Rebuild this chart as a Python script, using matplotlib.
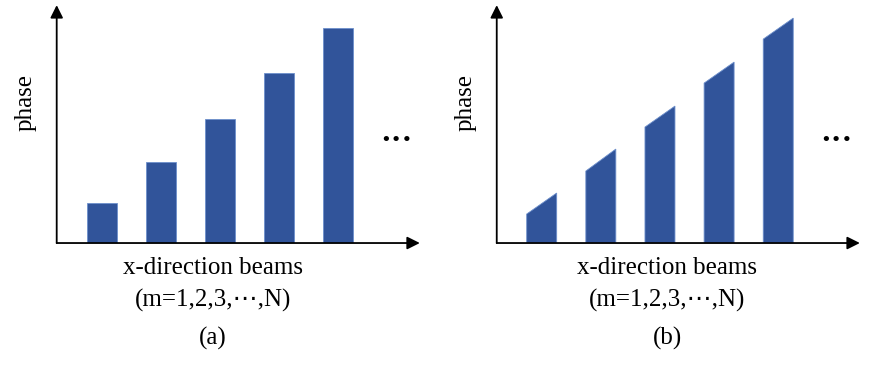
import matplotlib.pyplot as plt
import numpy as np

# bar index (m = 1..5)
beams = [1, 2, 3, 4, 5]
# (a) phase per beam (constant across beam)
phase_a = [40, 81, 124, 170, 215]
# (b) phase at left and right edge of each beam (linear within beam)
phase_b_left = [29, 72, 116, 160, 204]
phase_b_right = [50, 94, 137, 181, 225]

bar_color = '#31549a'
edge_color = '#6d8fcb'
bar_w = 0.507
serif = ['Liberation Serif', 'DejaVu Serif', 'DejaVu Sans']

fig = plt.figure(figsize=(8.75, 3.66), dpi=100)

ax_l = 0.0648
ax_w = 0.415
ax_b = 0.336
ax_h = 0.650

axa = fig.add_axes([ax_l, ax_b, ax_w, ax_h])
axb = fig.add_axes([0.5677, ax_b, ax_w, ax_h])


def setup(ax):
    ax.set_xlim(0.24, 6.38)
    ax.set_ylim(0, 238)
    for s in ax.spines.values():
        s.set_visible(False)
    ax.set_xticks([])
    ax.set_yticks([])
    ax.patch.set_alpha(0)
    # arrows for axes
    ax.annotate('', xy=(1, 0), xytext=(0, 0), xycoords='axes fraction',
                arrowprops=dict(arrowstyle='-|>', mutation_scale=19, lw=1.3,
                                color='black', shrinkA=0, shrinkB=0))
    ax.annotate('', xy=(0, 1), xytext=(0, 0), xycoords='axes fraction',
                arrowprops=dict(arrowstyle='-|>', mutation_scale=19, lw=1.3,
                                color='black', shrinkA=0, shrinkB=0))
    ax.text(-0.085, 0.59, 'phase', transform=ax.transAxes, rotation=90,
            fontsize=18, family=serif, ha='center', va='center')
    ax.text(0.935, 0.433, '•••', transform=ax.transAxes, fontsize=13,
            family='DejaVu Sans', ha='center', va='center')


setup(axa)
setup(axb)

# (a) rectangular bars
axa.bar(beams, phase_a, width=bar_w, color=bar_color, edgecolor=edge_color,
        linewidth=0.6)

# (b) trapezoid bars
for m, yl, yr in zip(beams, phase_b_left, phase_b_right):
    xs = [m - bar_w / 2, m - bar_w / 2, m + bar_w / 2, m + bar_w / 2]
    ys = [0, yl, yr, 0]
    axb.fill(xs, ys, color=bar_color, edgecolor=edge_color, linewidth=0.6)

# labels under panels
for cx, tag in [(213 / 875, '(a)'), (667 / 875, '(b)')]:
    fig.text(cx, 1 - 268 / 366, 'x-direction beams', fontsize=18,
             family=serif, ha='center', va='center')
    fig.text(cx, 1 - 300 / 366, '(m=1,2,3,⋯,N)', fontsize=18,
             family=serif, ha='center', va='center')
    fig.text(cx, 1 - 338 / 366, tag, fontsize=18,
             family=serif, ha='center', va='center')

fig.savefig('out.png', dpi=100)
